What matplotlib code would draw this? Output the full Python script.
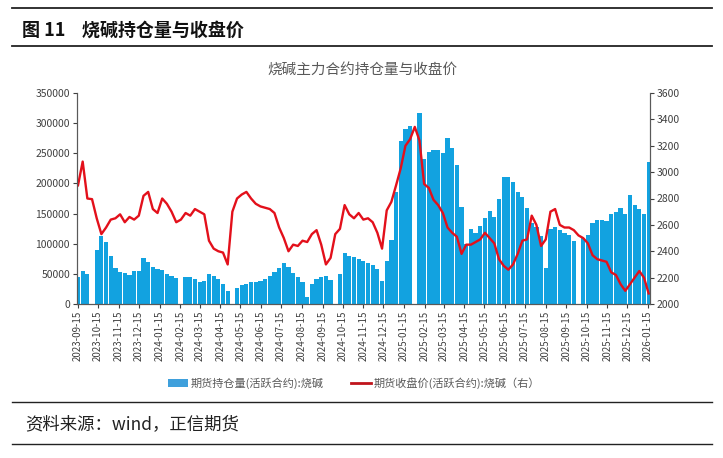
import numpy as np
import pandas as pd
import matplotlib
matplotlib.use('Agg')
import matplotlib.pyplot as plt
from matplotlib.lines import Line2D
from matplotlib.patches import Patch

plt.rcParams['font.family'] = ['Noto Sans CJK SC', 'DejaVu Sans']

# 周度数据（每周五），节假日周持仓量记为0
weeks = pd.date_range('2023-09-15', periods=123, freq='7D')

open_interest = [
    45000, 55000, 50000, 0, 90000, 112000, 103000, 80000, 60000, 53000,
    51000, 48000, 55000, 55000, 77000, 70000, 62000, 58000, 56000, 50000,
    47000, 43000, 0, 45000, 44000, 41000, 37000, 38000, 50000, 47000,
    42000, 33000, 22000, 0, 27000, 31000, 33000, 36000, 36000, 38000,
    42000, 46000, 53000, 60000, 68000, 62000, 52000, 44000, 36000, 12000,
    34000, 41000, 44000, 47000, 40000, 0, 50000, 84000, 80000, 78000,
    74000, 72000, 68000, 64000, 58000, 38000, 72000, 106000, 185000, 270000,
    290000, 295000, 0, 316000, 240000, 252000, 255000, 255000, 250000, 276000,
    258000, 230000, 161000, 100000, 125000, 117000, 130000, 142000, 155000, 145000,
    175000, 210000, 211000, 203000, 185000, 177000, 160000, 134000, 127000, 113000,
    60000, 125000, 128000, 122000, 117000, 115000, 105000, 0, 109000, 115000,
    135000, 140000, 140000, 138000, 150000, 152000, 160000, 150000, 180000, 165000,
    158000, 150000, 235000,
]

close_price = [
    2900, 3080, 2800, 2795, 2650, 2530, 2580, 2640, 2650, 2680,
    2620, 2660, 2640, 2670, 2820, 2850, 2720, 2690, 2800, 2760,
    2700, 2620, 2640, 2690, 2670, 2720, 2700, 2680, 2480, 2420,
    2400, 2390, 2300, 2700, 2800, 2830, 2850, 2800, 2760, 2740,
    2730, 2720, 2690, 2580, 2500, 2400, 2450, 2440, 2480, 2470,
    2530, 2560, 2450, 2300, 2350, 2530, 2570, 2750, 2680, 2650,
    2690, 2640, 2650, 2620, 2540, 2420, 2710, 2775, 2900, 3030,
    3200, 3250, 3343, 3240, 2910, 2880, 2790, 2750, 2690, 2580,
    2540, 2510, 2380, 2450, 2450, 2470, 2490, 2540, 2500, 2460,
    2340, 2290, 2260, 2300, 2380, 2480, 2490, 2670, 2600, 2440,
    2490, 2700, 2720, 2600, 2580, 2580, 2560, 2520, 2500, 2460,
    2370, 2340, 2330, 2320, 2240, 2220, 2150, 2100, 2150, 2200,
    2250, 2200, 2080,
]

tick_dates = pd.date_range('2023-09-01', periods=29, freq='MS') + pd.Timedelta(days=14)
tick_labels = [d.strftime('%Y-%m-%d') for d in tick_dates]

bar_color = '#12a2e0'
line_color = '#e3101b'
text_grey = '#595959'
axis_grey = '#404040'

fig = plt.figure(figsize=(7.23, 4.58), dpi=100)
ax = fig.add_axes([77/723, 1-304/458, (650-77)/723, (304-93)/458])
ax2 = ax.twinx()

ax.bar(weeks, open_interest, width=6.3, color=bar_color, edgecolor='none', linewidth=0)
ax2.plot(weeks, close_price, color=line_color, linewidth=1.7)

ax.set_xlim(pd.Timestamp('2023-09-13 12:00'), pd.Timestamp('2026-01-18'))
ax.set_ylim(0, 350000)
ax.set_yticks(np.arange(0, 350001, 50000))
ax.set_yticklabels([str(v) for v in range(0, 350001, 50000)])
ax2.set_ylim(2000, 3600)
ax2.set_yticks(np.arange(2000, 3601, 200))

ax.set_xticks(tick_dates)
ax.set_xticklabels(tick_labels, rotation=90, fontsize=7, color=axis_grey)

for a in (ax, ax2):
    a.spines['top'].set_visible(False)
    for s in a.spines.values():
        s.set_color('#595959')
        s.set_linewidth(0.8)
ax.tick_params(axis='y', labelsize=7.5, colors=axis_grey, length=3, width=0.8, pad=2)
ax.tick_params(axis='x', length=3, width=0.8, pad=2, colors=axis_grey)
ax2.tick_params(axis='y', labelsize=7.5, colors=axis_grey, length=3, width=0.8, pad=2)

# 标题、副标题
fig.text(22/723, 1-30/458, '图 11    烧碱持仓量与收盘价', fontsize=13, fontweight='bold',
         color='#111111', va='center', ha='left')
fig.text(363/723, 1-70/458, '烧碱主力合约持仓量与收盘价', fontsize=10.5,
         color=text_grey, va='center', ha='center')

# 图例
handles = [Patch(facecolor='#3fa0dc', edgecolor='none'),
           Line2D([0], [0], color='#c0141c', linewidth=2)]
labels = ['期货持仓量(活跃合约):烧碱', '期货收盘价(活跃合约):烧碱（右）']
fig.legend(handles, labels, loc='center', bbox_to_anchor=(354/723, 1-383/458), ncol=2,
           frameon=False, fontsize=8, handlelength=1.8, handletextpad=0.3,
           columnspacing=2.4, labelcolor=text_grey)

# 资料来源
fig.text(25/723, 1-424/458, '资料来源：wind，正信期货', fontsize=12.5,
         color='#222222', va='center', ha='left')

# 分隔线
for y, lw in [(8, 1.3), (46, 1.3), (402, 1.0), (444, 1.0)]:
    fig.add_artist(Line2D([12/723, 712/723], [1-y/458, 1-y/458],
                          color='#222222', linewidth=lw, transform=fig.transFigure))

fig.savefig('out.png', dpi=100)
